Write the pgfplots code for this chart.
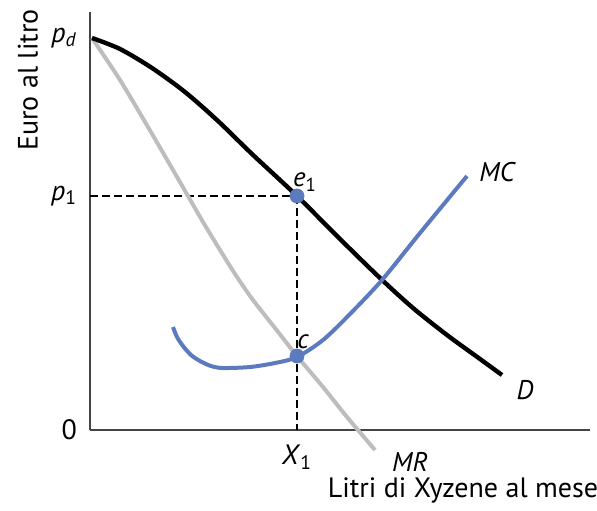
\documentclass[border=0pt]{standalone}
\usepackage{fontspec}
\setmainfont{PT Sans}
\usepackage{pgfplots}
\pgfplotsset{compat=1.18}
\definecolor{mcblue}{HTML}{5B7BBE}
\definecolor{mrgray}{HTML}{BDBDBD}
\definecolor{axgray}{HTML}{444444}
\begin{document}
\begin{tikzpicture}
\begin{axis}[
  x=0.5pt, y=0.5pt,
  xmin=0, xmax=500, ymin=0, ymax=418,
  axis lines=left,
  axis line style={-, axgray, line width=1pt},
  clip=false,
  xtick={207}, xticklabels={\textit{X}\textsubscript{1}},
  ytick={0,234,392}, yticklabels={0,{\textit{p}\textsubscript{1}},{\textit{p}\textsubscript{\textit{d}}}},
  major tick length=0pt,
  tick label style={font=\fontsize{14}{16}\selectfont},
  yticklabel style={xshift=-3pt},
  xticklabel style={yshift=-4pt},
]
\coordinate (bbA) at (axis cs:-90,-80);
\coordinate (bbB) at (axis cs:507,430);
\addplot[black, line width=0.6pt, dash pattern=on 4pt off 2pt] coordinates {(0,234) (207,234)};
\addplot[black, line width=0.6pt, dash pattern=on 4pt off 2pt] coordinates {(207,234) (207,0)};
\addplot[mrgray, line width=2pt, smooth, tension=0.5] coordinates {(2,392) (30,350) (58,303) (83,260) (98,234) (113,208) (130,180) (147,153) (163,130) (185,102) (207,74) (233,43) (257,13) (285,-20)};
\addplot[black, line width=2.2pt, smooth, tension=0.5] coordinates {(2,392) (30,381) (62,362) (95,338) (128,309) (162,276) (207,234) (250,191) (290,152) (323,122) (357,95) (390,71) (412,55)};
\addplot[mcblue, line width=2pt, smooth, tension=0.5] coordinates {(83,103) (87,93) (93,84) (101,75) (110,69) (121,64) (133,62) (160,63) (185,67) (207,73) (233,90) (260,116) (292,150) (330,197) (377,254)};
\addplot[only marks, mark=*, mark size=3.5pt, mcblue] coordinates {(207,234) (207,74)};
\node[font=\fontsize{14}{16}\selectfont, rotate=90] at (axis cs:-62,350) {Euro al litro};
\node[font=\fontsize{14}{16}\selectfont] at (axis cs:373,-60) {Litri di Xyzene al mese};
\node[font=\fontsize{13.5}{16}\selectfont\itshape] at (axis cs:320,-32) {MR};
\node[font=\fontsize{13.5}{16}\selectfont\itshape] at (axis cs:407,258) {MC};
\node[font=\fontsize{13.5}{16}\selectfont\itshape] at (axis cs:435,40) {D};
\node[font=\fontsize{13.5}{16}\selectfont] at (axis cs:215,248) {\textit{e}\textsubscript{1}};
\node[font=\fontsize{13.5}{16}\selectfont\itshape] at (axis cs:213,88) {c};
\end{axis}
\pgfresetboundingbox
\path (bbA) rectangle (bbB);
\end{tikzpicture}
\end{document}
